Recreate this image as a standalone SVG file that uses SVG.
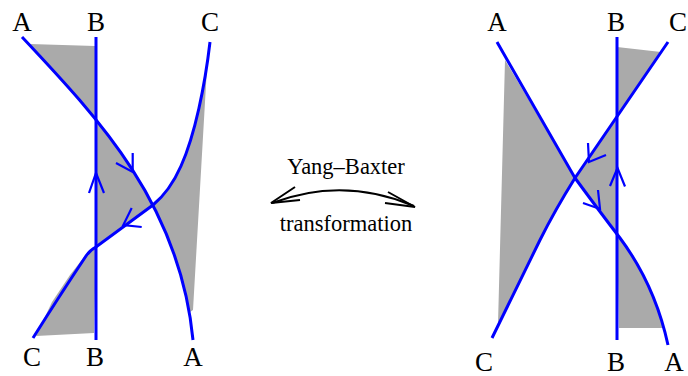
<svg xmlns="http://www.w3.org/2000/svg" width="688" height="376" viewBox="0 0 688 376">
<style>
.lbl{font-family:"Liberation Serif","Times New Roman",serif;font-size:27px;fill:#000;text-anchor:middle}
.cap{font-family:"Liberation Serif","Times New Roman",serif;font-size:22.5px;fill:#000;text-anchor:middle}
.sh{fill:#aaaaaa;stroke:none}
.str{fill:none;stroke:#0000ff;stroke-width:3;stroke-linejoin:miter}
.arr{fill:none;stroke:#0000ff;stroke-width:2.2}
.blk{fill:none;stroke:#000;stroke-width:2}
</style>
<g id="left-diagram">
  <g id="left-shading">
    <polygon class="sh" points="30,44 95,46 96,119"/>
    <polygon class="sh" points="96,119 112,141 131,168 143,186 153,205 96,247"/>
    <polygon class="sh" points="208,50 205,75 199,105 191,138 181,166 170,186 162,197 153,205 165,231 178,265 187,301 190,312 193,310"/>
    <polygon class="sh" points="96,247 88,252 70,275 52,302 36,336 94,333"/>
  </g>
  <g id="left-strand-B">
    <line class="str" x1="96" y1="37" x2="96" y2="340"/>
    <polyline class="arr" points="89,193 96,173 104,193"/>
  </g>
  <g id="left-strand-A">
    <path class="str" d="M22,37 C100,120 180,205 193,340"/>
    <polyline class="arr" points="132.7,153 132.7,172 116,163"/>
  </g>
  <g id="left-strand-C">
    <path class="str" d="M210,42 C205,85 195,135 181,166 C173,184 164,196 153,205 L96,247 Q90,250 86,256 Q60,295 33,338"/>
    <polyline class="arr" points="131.7,208 123.3,225 141.7,227"/>
  </g>
  <g id="left-labels">
    <text class="lbl" x="22" y="31">A</text>
    <text class="lbl" x="96" y="31">B</text>
    <text class="lbl" x="210" y="31">C</text>
    <text class="lbl" x="32" y="366">C</text>
    <text class="lbl" x="95" y="366">B</text>
    <text class="lbl" x="193" y="366">A</text>
  </g>
</g>
<g id="transformation">
  <text class="cap" x="346" y="174">Yang–Baxter</text>
  <text class="cap" x="346" y="231">transformation</text>
  <g id="connectors">
    <path class="blk" d="M272,203 Q343,176 414,206"/>
    <polyline class="blk" points="295,187 271,203 300,200"/>
    <polyline class="blk" points="388,192 415,207 385,203"/>
  </g>
</g>
<g id="right-diagram">
  <g id="right-shading">
    <polygon class="sh" points="617,47 661,52 617,118"/>
    <polygon class="sh" points="617,118 575,178 588,194 600,210 610,223 617,233"/>
    <polygon class="sh" points="505,60 575,178 555,210 540,240 498,324"/>
    <polygon class="sh" points="617,233 620,238 637,262 648,285 657,305 664,328 619,328"/>
  </g>
  <g id="right-strand-B">
    <line class="str" x1="617" y1="37" x2="617" y2="340"/>
    <polyline class="arr" points="610,186 617.5,168 625,186.5"/>
  </g>
  <g id="right-strand-A">
    <path class="str" d="M497,42 L575,178 Q600,212 620,238 Q655,285 668,345"/>
    <polyline class="arr" points="598,190 600,209 583,203"/>
  </g>
  <g id="right-strand-C">
    <path class="str" d="M668,42 L575,178 Q555,210 540,240 L492,338"/>
    <polyline class="arr" points="588,143 589,162 606,155"/>
  </g>
  <g id="right-labels">
    <text class="lbl" x="497" y="31">A</text>
    <text class="lbl" x="616" y="31">B</text>
    <text class="lbl" x="678" y="31">C</text>
    <text class="lbl" x="484" y="371">C</text>
    <text class="lbl" x="616" y="371">B</text>
    <text class="lbl" x="674" y="371">A</text>
  </g>
</g>
</svg>
